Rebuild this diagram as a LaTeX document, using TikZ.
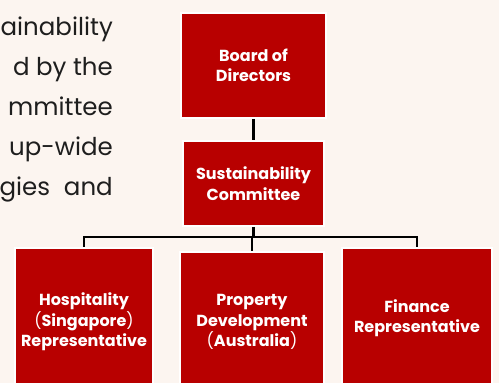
\documentclass[tikz,border=0pt]{standalone}
\usepackage{fontspec}
\setmainfont{Poppins}
\usetikzlibrary{positioning}
\definecolor{pagecream}{RGB}{252,245,240}
\definecolor{boxred}{RGB}{184,0,0}
\definecolor{bodygray}{RGB}{30,30,30}

\tikzset{
  unitbox/.style={fill=boxred,draw=white,line width=1.5pt,text=white,
    font=\bfseries\fontsize{16}{20.5}\selectfont,align=center,inner sep=0pt},
  link/.style={line width=2.6pt,black},
  bodyline/.style={anchor=base east,text=bodygray,inner sep=0pt,
    font=\fontsize{24.5}{30}\selectfont}
}
\newcommand{\pr}[1]{{\mdseries#1}}

\begin{document}
\begin{tikzpicture}[x=1pt,y=-1pt]
  \fill[pagecream] (0,0) rectangle (499,383);
  \useasboundingbox (0,0) rectangle (499,383);
  % running text on the left, cut by the page edge
  \foreach \txt [count=\i] in {ainability,d by the,mmittee,up-wide,gies\hspace{0.3em} and}
    \node[bodyline] (line\i) at (113,{35+40*(\i-1)}) {\txt};
  % top of the chart
  \node[unitbox,minimum width=145,minimum height=105] (board) at (253.5,65.5) {Board of\\Directors};
  \node[unitbox,minimum width=141,minimum height=85] (comm) at (253.5,183.5) {Sustainability\\Committee};
  % the three representatives, running off the bottom
  \node[unitbox,minimum width=138,minimum height=148] (hosp) at (84,322)
    {Hospitality\\\pr{(}Singapore\pr{)}\\Representative};
  \node[unitbox,minimum width=144,minimum height=140] (prop) at (252,322)
    {Property\\Development\\\pr{(}Australia\pr{)}};
  \node[unitbox,minimum width=150,minimum height=140] (fin) at (417,318)
    {Finance\\Representative};
  \coordinate (bus) at (253.5,237);
  \draw[link] (board) -- (comm);
  \draw[link] (comm) -- (bus);
  \foreach \b in {hosp,prop,fin}
    \draw[link] (bus) -| (\b.north);
\end{tikzpicture}
\end{document}
